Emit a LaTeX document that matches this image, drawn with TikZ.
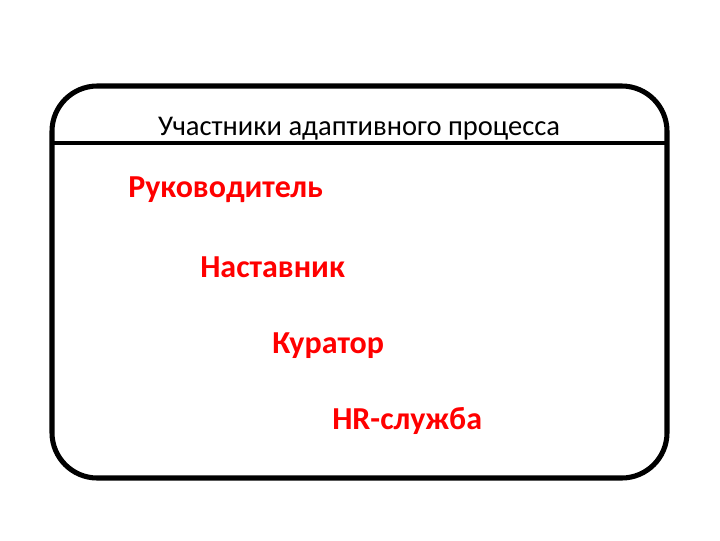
\documentclass[tikz,border=0pt]{standalone}
\usepackage{fontspec}
\setmainfont{Carlito}
\begin{document}
\begin{tikzpicture}[x=0.75pt,y=-0.75pt,
  item/.style={anchor=west,text=red,font=\fontsize{24}{28}\selectfont\bfseries,inner sep=0pt},
  frame/.style={draw=black,line width=3.8pt,rounded corners=34pt}]
\useasboundingbox (0,0) rectangle (720,540);
\draw[frame] (52,86) rectangle (667,478);
\coordinate (l) at (52,143);
\coordinate (r) at (667,143);
\draw[line width=3pt] (l) -- (r);
\node[font=\fontsize{21.4}{24}\selectfont,inner sep=0pt] (t) at (359,129) {Участники адаптивного процесса};
\node[item] (a) at (128,190) {Руководитель};
\node[item] (b) at (200,267) {Наставник};
\node[item] (c) at (272,346) {Куратор};
\node[item] (d) at (332,421) {HR-служба};
\end{tikzpicture}
\end{document}
